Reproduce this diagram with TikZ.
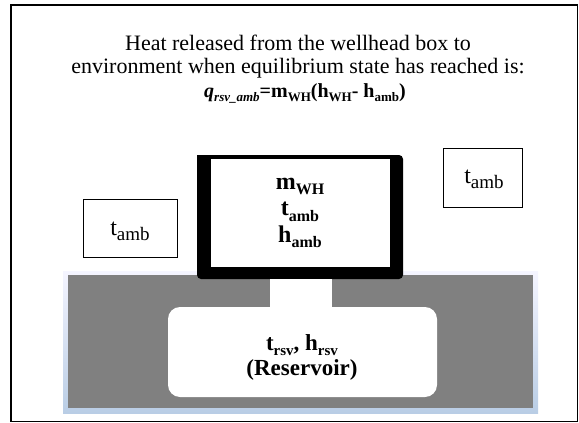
\documentclass[tikz,border=0pt]{standalone}
\usepackage{fontspec}
\setmainfont{Liberation Serif}
\newcommand{\sbx}[2][11]{\raisebox{-0.22em}{\fontsize{#1}{#1}\selectfont #2}}
\begin{document}
\begin{tikzpicture}[x=1pt,y=-1pt,
  lbl/.style={inner sep=0pt, align=center},
  ambbox/.style={draw=black, line width=0.9pt, fill=white},
  every node/.style={text=black}]
\useasboundingbox (0,0) rectangle (579,423);
% outer frame
\draw[line width=1.6pt] (11,5) rectangle (577.5,421.5);
% title
\node[lbl, font=\fontsize{22}{23.5}\selectfont] (title) at (298,69)
  {Heat released from the wellhead box to\\
   environment when equilibrium state has reached is:\\
   \hspace*{14pt}{\fontsize{20}{23.5}\selectfont\bfseries\textit{q}\sbx[13]{\textit{rsv\_amb}}=m\sbx[13]{WH}(h\sbx[13]{WH}- h\sbx[13]{amb})}};
% ground with glow
\shade[top color=blue!4!white, bottom color={rgb,255:red,185;green,205;blue,229}]
  (63,271) rectangle (538,413);
\fill[fill={rgb,255:red,128;green,128;blue,128}] (68,275) rectangle (533,408);
% wellhead box
\fill[black, rounded corners=4pt] (197,279) -- (403,279) -- (403,155)
  [sharp corners] -- (197,155) [rounded corners=4pt] -- cycle;
\fill[white] (211,158.5) rectangle (390,267);
% neck
\fill[white] (270,279) rectangle (332,312);
% reservoir
\fill[white, rounded corners=12pt] (168,307) rectangle (437,397);
% ambient boxes
\node[ambbox, minimum width=94pt, minimum height=58pt] (ambL) at (130,228) {};
\node[lbl, font=\fontsize{24}{30}\selectfont] (ambLt) at (130,231) {t\sbx[19]{amb}};
\node[ambbox, minimum width=79pt, minimum height=59pt] (ambR) at (482.5,177.5) {};
\node[lbl, font=\fontsize{24}{30}\selectfont] (ambRt) at (484,179) {t\sbx[19]{amb}};
% box texts
\node[lbl, font=\bfseries\fontsize{24}{26.5}\selectfont] (whtext) at (300,213)
  {m\sbx[16]{WH}\\t\sbx[16]{amb}\\h\sbx[16]{amb}};
\node[lbl, font=\bfseries\fontsize{23}{25}\selectfont] (rsvtext) at (302,357)
  {t\sbx[15]{rsv}, h\sbx[15]{rsv}\\(Reservoir)};
\end{tikzpicture}
\end{document}
